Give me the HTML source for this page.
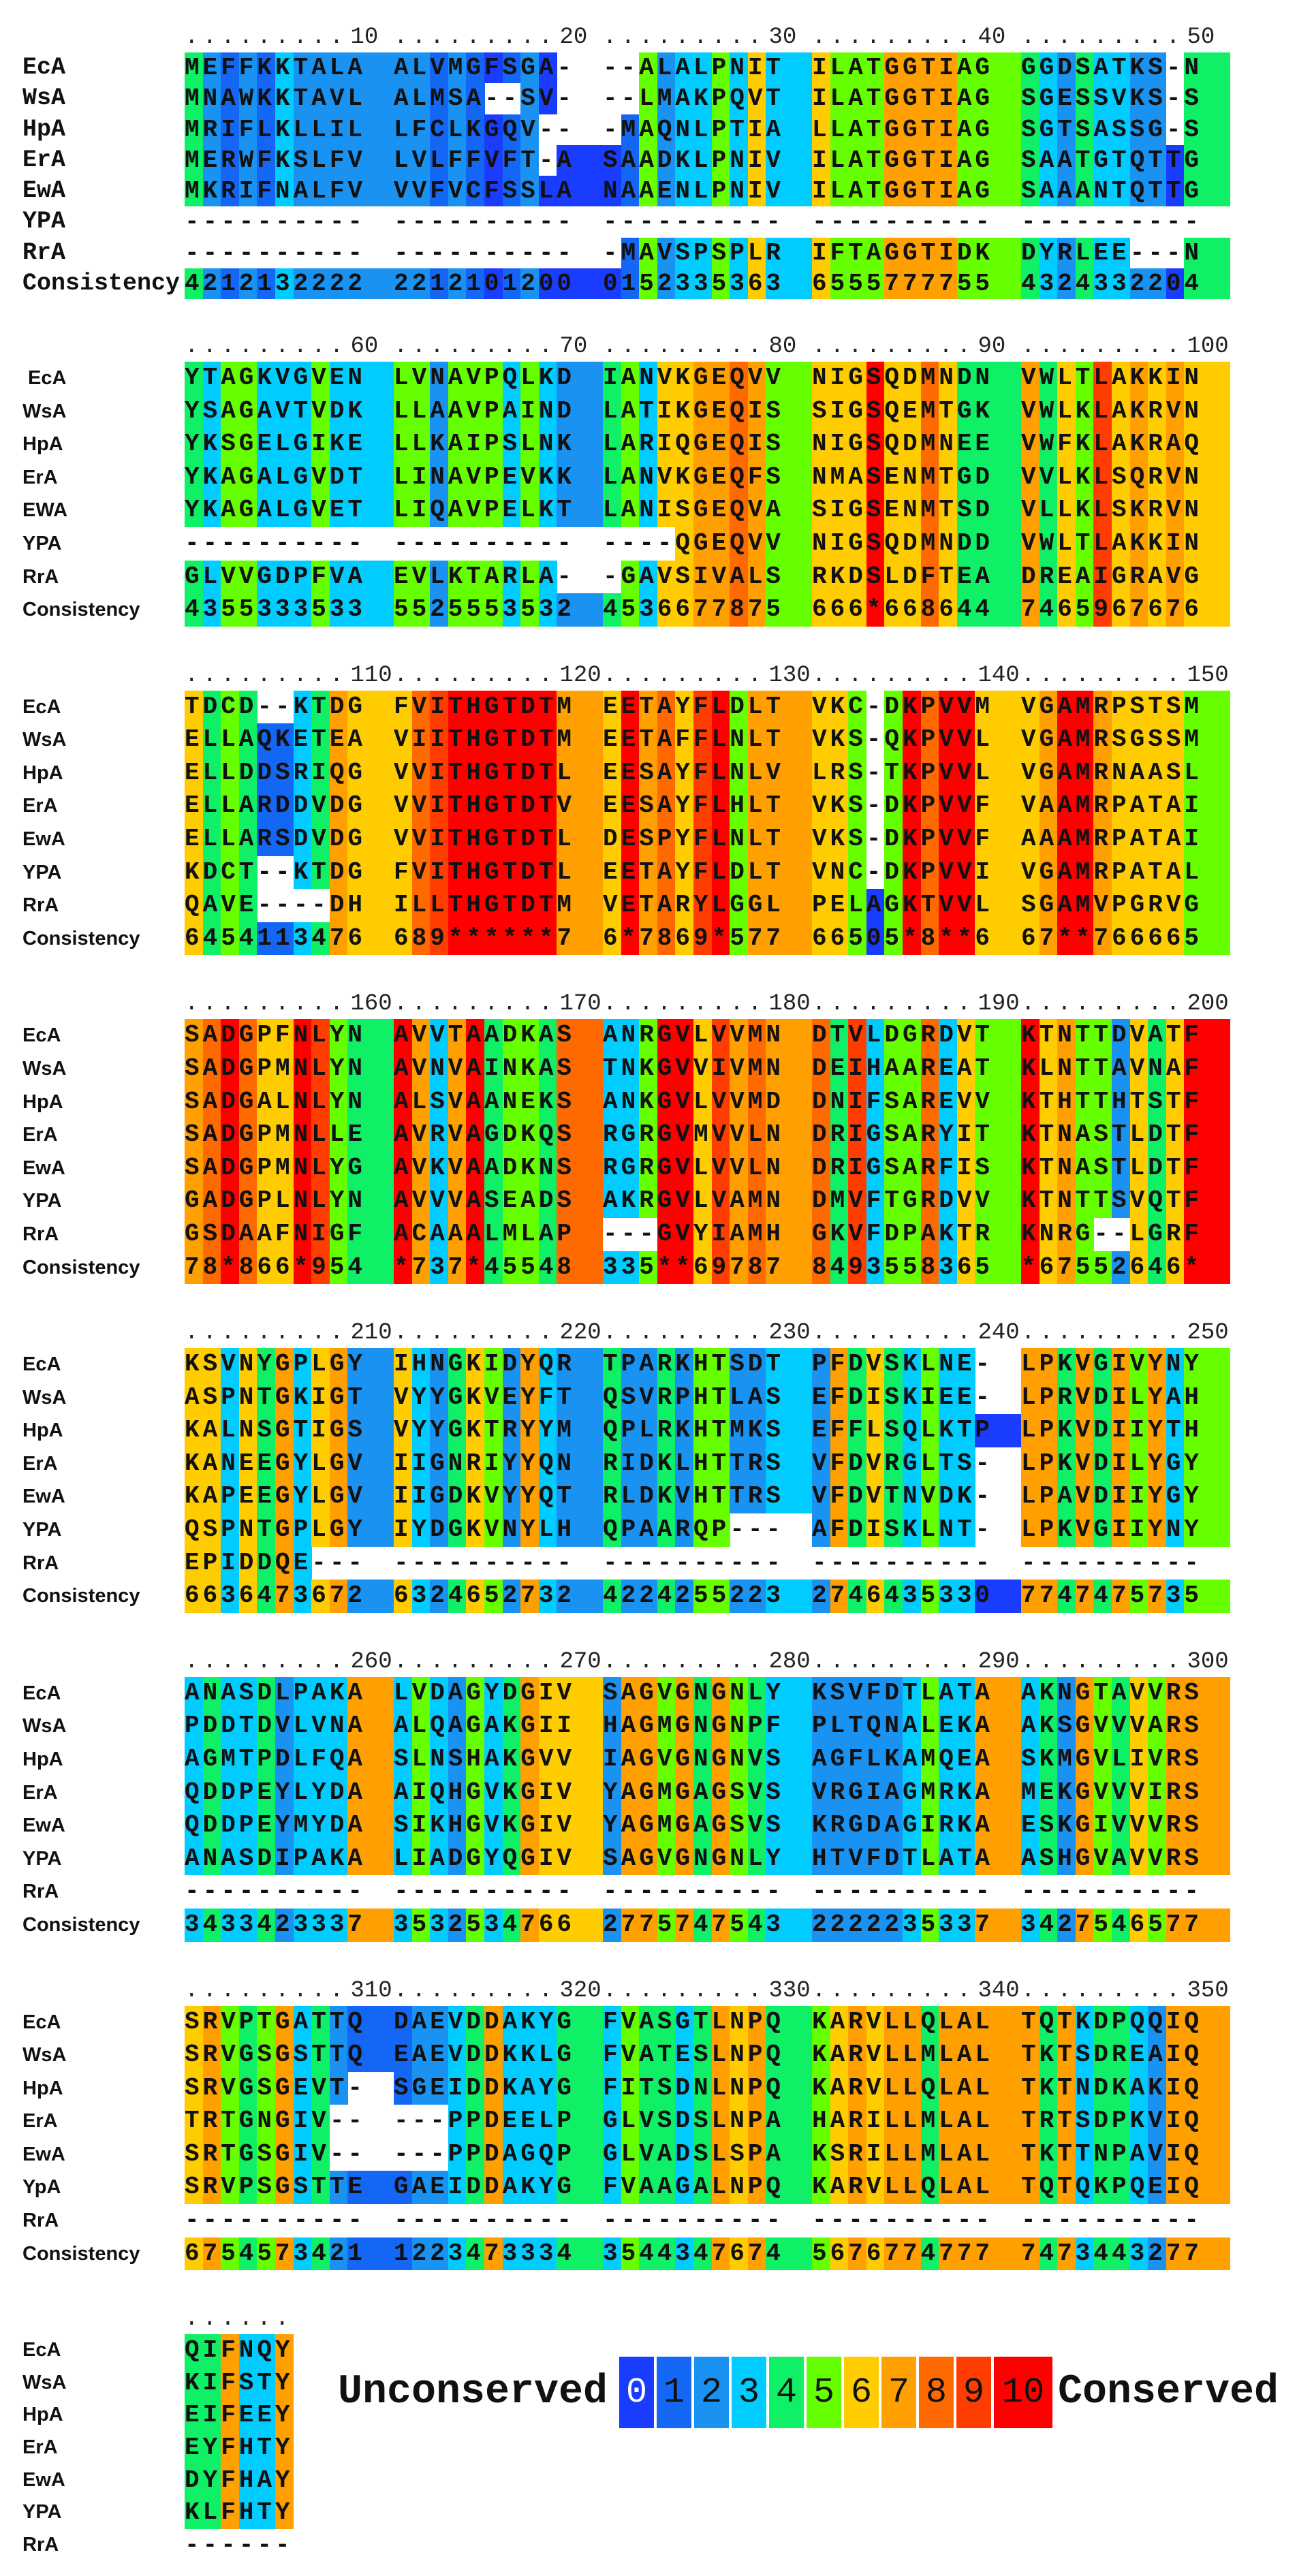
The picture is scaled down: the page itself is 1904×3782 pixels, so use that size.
<!DOCTYPE html>
<html><head><meta charset="utf-8">
<style>
html,body{margin:0;padding:0;background:#fff;}
body{width:1904px;height:3782px;position:relative;overflow:hidden;}
.blk{position:absolute;left:0;width:1904px;}
.row{position:relative;height:48.6px;line-height:48.6px;}
.b1 .row{height:45.3px;line-height:45.3px;}
.b8 .row{height:47.7px;line-height:47.7px;}
.lb{position:absolute;left:33px;top:0;font-family:"Liberation Sans",Arial,sans-serif;font-weight:bold;font-size:29px;color:#111;z-index:2;}
.b1 .lb{font-family:"Liberation Mono","Courier New",monospace;font-size:35px;}
.sq{position:absolute;left:271px;top:0;white-space:nowrap;font-family:"Liberation Mono","Courier New",monospace;font-weight:bold;font-size:36px;color:#111;z-index:2;}
.sq i{font-style:normal;display:inline-block;width:307px;letter-spacing:5px;}
.rl{position:absolute;left:271px;top:-40px;height:36px;line-height:36px;white-space:nowrap;font-family:"Liberation Mono","Courier New",monospace;font-size:34px;color:#222;}
.rl i{font-style:normal;display:inline-block;width:307px;letter-spacing:6.2px;}
.rl u{text-decoration:none;letter-spacing:0;margin-left:4px;}
.bg{position:absolute;top:0;height:100%;z-index:1;}
.leg{position:absolute;font-family:"Liberation Mono","Courier New",monospace;}
</style></head><body>

<div class="blk b1" style="top:77px">
<div class="rl"><i>.........<u>10</u></i><i>.........<u>20</u></i><i>.........<u>30</u></i><i>.........<u>40</u></i><i>.........<u>50</u></i></div>
<div class="row"><b class="lb">EcA</b><span class="sq"><i>MEFFKKTALA</i><i>ALVMGFSGA-</i><i>--ALALPNIT</i><i>ILATGGTIAG</i><i>GGDSATKS-N</i></span></div>
<div class="row"><b class="lb">WsA</b><span class="sq"><i>MNAWKKTAVL</i><i>ALMSA--SV-</i><i>--LMAKPQVT</i><i>ILATGGTIAG</i><i>SGESSVKS-S</i></span></div>
<div class="row"><b class="lb">HpA</b><span class="sq"><i>MRIFLKLLIL</i><i>LFCLKGQV--</i><i>-MAQNLPTIA</i><i>LLATGGTIAG</i><i>SGTSASSG-S</i></span></div>
<div class="row"><b class="lb">ErA</b><span class="sq"><i>MERWFKSLFV</i><i>LVLFFVFT-A</i><i>SAADKLPNIV</i><i>ILATGGTIAG</i><i>SAATGTQTTG</i></span></div>
<div class="row"><b class="lb">EwA</b><span class="sq"><i>MKRIFNALFV</i><i>VVFVCFSSLA</i><i>NAAENLPNIV</i><i>ILATGGTIAG</i><i>SAAANTQTTG</i></span></div>
<div class="row"><b class="lb">YPA</b><span class="sq"><i>----------</i><i>----------</i><i>----------</i><i>----------</i><i>----------</i></span></div>
<div class="row"><b class="lb">RrA</b><span class="sq"><i>----------</i><i>----------</i><i>-MAVSPSPLR</i><i>IFTAGGTIDK</i><i>DYRLEE---N</i></span></div>
<div class="row cons"><b class="lb">Consistency</b><span class="sq"><i>4212132222</i><i>2212101200</i><i>0152335363</i><i>6555777755</i><i>4324332204</i></span></div>
</div>

<div class="blk bn" style="top:531px">
<div class="rl"><i>.........<u>60</u></i><i>.........<u>70</u></i><i>.........<u>80</u></i><i>.........<u>90</u></i><i>.........<u>100</u></i></div>
<div class="row"><b class="lb" style="left:41px">EcA</b><span class="sq"><i>YTAGKVGVEN</i><i>LVNAVPQLKD</i><i>IANVKGEQVV</i><i>NIGSQDMNDN</i><i>VWLTLAKKIN</i></span></div>
<div class="row"><b class="lb">WsA</b><span class="sq"><i>YSAGAVTVDK</i><i>LLAAVPAIND</i><i>LATIKGEQIS</i><i>SIGSQEMTGK</i><i>VWLKLAKRVN</i></span></div>
<div class="row"><b class="lb">HpA</b><span class="sq"><i>YKSGELGIKE</i><i>LLKAIPSLNK</i><i>LARIQGEQIS</i><i>NIGSQDMNEE</i><i>VWFKLAKRAQ</i></span></div>
<div class="row"><b class="lb">ErA</b><span class="sq"><i>YKAGALGVDT</i><i>LINAVPEVKK</i><i>LANVKGEQFS</i><i>NMASENMTGD</i><i>VVLKLSQRVN</i></span></div>
<div class="row"><b class="lb">EWA</b><span class="sq"><i>YKAGALGVET</i><i>LIQAVPELKT</i><i>LANISGEQVA</i><i>SIGSENMTSD</i><i>VLLKLSKRVN</i></span></div>
<div class="row"><b class="lb">YPA</b><span class="sq"><i>----------</i><i>----------</i><i>----QGEQVV</i><i>NIGSQDMNDD</i><i>VWLTLAKKIN</i></span></div>
<div class="row"><b class="lb">RrA</b><span class="sq"><i>GLVVGDPFVA</i><i>EVLKTARLA-</i><i>-GAVSIVALS</i><i>RKDSLDFTEA</i><i>DREAIGRAVG</i></span></div>
<div class="row cons"><b class="lb">Consistency</b><span class="sq"><i>4355333533</i><i>5525553532</i><i>4536677875</i><i>666*668644</i><i>7465967676</i></span></div>
</div>

<div class="blk bn" style="top:1013.7px">
<div class="rl"><i>.........<u>110</u></i><i>.........<u>120</u></i><i>.........<u>130</u></i><i>.........<u>140</u></i><i>.........<u>150</u></i></div>
<div class="row"><b class="lb">EcA</b><span class="sq"><i>TDCD--KTDG</i><i>FVITHGTDTM</i><i>EETAYFLDLT</i><i>VKC-DKPVVM</i><i>VGAMRPSTSM</i></span></div>
<div class="row"><b class="lb">WsA</b><span class="sq"><i>ELLAQKETEA</i><i>VIITHGTDTM</i><i>EETAFFLNLT</i><i>VKS-QKPVVL</i><i>VGAMRSGSSM</i></span></div>
<div class="row"><b class="lb">HpA</b><span class="sq"><i>ELLDDSRIQG</i><i>VVITHGTDTL</i><i>EESAYFLNLV</i><i>LRS-TKPVVL</i><i>VGAMRNAASL</i></span></div>
<div class="row"><b class="lb">ErA</b><span class="sq"><i>ELLARDDVDG</i><i>VVITHGTDTV</i><i>EESAYFLHLT</i><i>VKS-DKPVVF</i><i>VAAMRPATAI</i></span></div>
<div class="row"><b class="lb">EwA</b><span class="sq"><i>ELLARSDVDG</i><i>VVITHGTDTL</i><i>DESPYFLNLT</i><i>VKS-DKPVVF</i><i>AAAMRPATAI</i></span></div>
<div class="row"><b class="lb">YPA</b><span class="sq"><i>KDCT--KTDG</i><i>FVITHGTDTL</i><i>EETAYFLDLT</i><i>VNC-DKPVVI</i><i>VGAMRPATAL</i></span></div>
<div class="row"><b class="lb">RrA</b><span class="sq"><i>QAVE----DH</i><i>ILLTHGTDTM</i><i>VETARYLGGL</i><i>PELAGKTVVL</i><i>SGAMVPGRVG</i></span></div>
<div class="row cons"><b class="lb">Consistency</b><span class="sq"><i>6454113476</i><i>689******7</i><i>6*7869*577</i><i>66505*8**6</i><i>67**766665</i></span></div>
</div>

<div class="blk bn" style="top:1496.4px">
<div class="rl"><i>.........<u>160</u></i><i>.........<u>170</u></i><i>.........<u>180</u></i><i>.........<u>190</u></i><i>.........<u>200</u></i></div>
<div class="row"><b class="lb">EcA</b><span class="sq"><i>SADGPFNLYN</i><i>AVVTAADKAS</i><i>ANRGVLVVMN</i><i>DTVLDGRDVT</i><i>KTNTTDVATF</i></span></div>
<div class="row"><b class="lb">WsA</b><span class="sq"><i>SADGPMNLYN</i><i>AVNVAINKAS</i><i>TNKGVVIVMN</i><i>DEIHAAREAT</i><i>KLNTTAVNAF</i></span></div>
<div class="row"><b class="lb">HpA</b><span class="sq"><i>SADGALNLYN</i><i>ALSVAANEKS</i><i>ANKGVLVVMD</i><i>DNIFSAREVV</i><i>KTHTTHTSTF</i></span></div>
<div class="row"><b class="lb">ErA</b><span class="sq"><i>SADGPMNLLE</i><i>AVRVAGDKQS</i><i>RGRGVMVVLN</i><i>DRIGSARYIT</i><i>KTNASTLDTF</i></span></div>
<div class="row"><b class="lb">EwA</b><span class="sq"><i>SADGPMNLYG</i><i>AVKVAADKNS</i><i>RGRGVLVVLN</i><i>DRIGSARFIS</i><i>KTNASTLDTF</i></span></div>
<div class="row"><b class="lb">YPA</b><span class="sq"><i>GADGPLNLYN</i><i>AVVVASEADS</i><i>AKRGVLVAMN</i><i>DMVFTGRDVV</i><i>KTNTTSVQTF</i></span></div>
<div class="row"><b class="lb">RrA</b><span class="sq"><i>GSDAAFNIGF</i><i>ACAAALMLAP</i><i>---GVYIAMH</i><i>GKVFDPAKTR</i><i>KNRG--LGRF</i></span></div>
<div class="row cons"><b class="lb">Consistency</b><span class="sq"><i>78*866*954</i><i>*737*45548</i><i>335**69787</i><i>8493558365</i><i>*67552646*</i></span></div>
</div>

<div class="blk bn" style="top:1979.1px">
<div class="rl"><i>.........<u>210</u></i><i>.........<u>220</u></i><i>.........<u>230</u></i><i>.........<u>240</u></i><i>.........<u>250</u></i></div>
<div class="row"><b class="lb">EcA</b><span class="sq"><i>KSVNYGPLGY</i><i>IHNGKIDYQR</i><i>TPARKHTSDT</i><i>PFDVSKLNE-</i><i>LPKVGIVYNY</i></span></div>
<div class="row"><b class="lb">WsA</b><span class="sq"><i>ASPNTGKIGT</i><i>VYYGKVEYFT</i><i>QSVRPHTLAS</i><i>EFDISKIEE-</i><i>LPRVDILYAH</i></span></div>
<div class="row"><b class="lb">HpA</b><span class="sq"><i>KALNSGTIGS</i><i>VYYGKTRYYM</i><i>QPLRKHTMKS</i><i>EFFLSQLKTP</i><i>LPKVDIIYTH</i></span></div>
<div class="row"><b class="lb">ErA</b><span class="sq"><i>KANEEGYLGV</i><i>IIGNRIYYQN</i><i>RIDKLHTTRS</i><i>VFDVRGLTS-</i><i>LPKVDILYGY</i></span></div>
<div class="row"><b class="lb">EwA</b><span class="sq"><i>KAPEEGYLGV</i><i>IIGDKVYYQT</i><i>RLDKVHTTRS</i><i>VFDVTNVDK-</i><i>LPAVDIIYGY</i></span></div>
<div class="row"><b class="lb">YPA</b><span class="sq"><i>QSPNTGPLGY</i><i>IYDGKVNYLH</i><i>QPAARQP---</i><i>AFDISKLNT-</i><i>LPKVGIIYNY</i></span></div>
<div class="row"><b class="lb">RrA</b><span class="sq"><i>EPIDDQE---</i><i>----------</i><i>----------</i><i>----------</i><i>----------</i></span></div>
<div class="row cons"><b class="lb">Consistency</b><span class="sq"><i>6636473672</i><i>6324652732</i><i>4224255223</i><i>2746435330</i><i>7747475735</i></span></div>
</div>

<div class="blk bn" style="top:2461.8px">
<div class="rl"><i>.........<u>260</u></i><i>.........<u>270</u></i><i>.........<u>280</u></i><i>.........<u>290</u></i><i>.........<u>300</u></i></div>
<div class="row"><b class="lb">EcA</b><span class="sq"><i>ANASDLPAKA</i><i>LVDAGYDGIV</i><i>SAGVGNGNLY</i><i>KSVFDTLATA</i><i>AKNGTAVVRS</i></span></div>
<div class="row"><b class="lb">WsA</b><span class="sq"><i>PDDTDVLVNA</i><i>ALQAGAKGII</i><i>HAGMGNGNPF</i><i>PLTQNALEKA</i><i>AKSGVVVARS</i></span></div>
<div class="row"><b class="lb">HpA</b><span class="sq"><i>AGMTPDLFQA</i><i>SLNSHAKGVV</i><i>IAGVGNGNVS</i><i>AGFLKAMQEA</i><i>SKMGVLIVRS</i></span></div>
<div class="row"><b class="lb">ErA</b><span class="sq"><i>QDDPEYLYDA</i><i>AIQHGVKGIV</i><i>YAGMGAGSVS</i><i>VRGIAGMRKA</i><i>MEKGVVVIRS</i></span></div>
<div class="row"><b class="lb">EwA</b><span class="sq"><i>QDDPEYMYDA</i><i>SIKHGVKGIV</i><i>YAGMGAGSVS</i><i>KRGDAGIRKA</i><i>ESKGIVVVRS</i></span></div>
<div class="row"><b class="lb">YPA</b><span class="sq"><i>ANASDIPAKA</i><i>LIADGYQGIV</i><i>SAGVGNGNLY</i><i>HTVFDTLATA</i><i>ASHGVAVVRS</i></span></div>
<div class="row"><b class="lb">RrA</b><span class="sq"><i>----------</i><i>----------</i><i>----------</i><i>----------</i><i>----------</i></span></div>
<div class="row cons"><b class="lb">Consistency</b><span class="sq"><i>3433423337</i><i>3532534766</i><i>2775747543</i><i>2222235337</i><i>3427546577</i></span></div>
</div>

<div class="blk bn" style="top:2944.5px">
<div class="rl"><i>.........<u>310</u></i><i>.........<u>320</u></i><i>.........<u>330</u></i><i>.........<u>340</u></i><i>.........<u>350</u></i></div>
<div class="row"><b class="lb">EcA</b><span class="sq"><i>SRVPTGATTQ</i><i>DAEVDDAKYG</i><i>FVASGTLNPQ</i><i>KARVLLQLAL</i><i>TQTKDPQQIQ</i></span></div>
<div class="row"><b class="lb">WsA</b><span class="sq"><i>SRVGSGSTTQ</i><i>EAEVDDKKLG</i><i>FVATESLNPQ</i><i>KARVLLMLAL</i><i>TKTSDREAIQ</i></span></div>
<div class="row"><b class="lb">HpA</b><span class="sq"><i>SRVGSGEVT-</i><i>SGEIDDKAYG</i><i>FITSDNLNPQ</i><i>KARVLLQLAL</i><i>TKTNDKAKIQ</i></span></div>
<div class="row"><b class="lb">ErA</b><span class="sq"><i>TRTGNGIV--</i><i>---PPDEELP</i><i>GLVSDSLNPA</i><i>HARILLMLAL</i><i>TRTSDPKVIQ</i></span></div>
<div class="row"><b class="lb">EwA</b><span class="sq"><i>SRTGSGIV--</i><i>---PPDAGQP</i><i>GLVADSLSPA</i><i>KSRILLMLAL</i><i>TKTTNPAVIQ</i></span></div>
<div class="row"><b class="lb">YpA</b><span class="sq"><i>SRVPSGSTTE</i><i>GAEIDDAKYG</i><i>FVAAGALNPQ</i><i>KARVLLQLAL</i><i>TQTQKPQEIQ</i></span></div>
<div class="row"><b class="lb">RrA</b><span class="sq"><i>----------</i><i>----------</i><i>----------</i><i>----------</i><i>----------</i></span></div>
<div class="row cons"><b class="lb">Consistency</b><span class="sq"><i>6754573421</i><i>1223473334</i><i>3544347674</i><i>5676774777</i><i>7473443277</i></span></div>
</div>

<div class="blk b8" style="top:3427px">
<div class="rl"><i>......</i></div>
<div class="row"><b class="lb">EcA</b><span class="sq"><i>QIFNQY</i></span></div>
<div class="row"><b class="lb">WsA</b><span class="sq"><i>KIFSTY</i></span></div>
<div class="row"><b class="lb">HpA</b><span class="sq"><i>EIFEEY</i></span></div>
<div class="row"><b class="lb">ErA</b><span class="sq"><i>EYFHTY</i></span></div>
<div class="row"><b class="lb">EwA</b><span class="sq"><i>DYFHAY</i></span></div>
<div class="row"><b class="lb">YPA</b><span class="sq"><i>KLFHTY</i></span></div>
<div class="row"><b class="lb">RrA</b><span class="sq"><i>------</i></span></div>
</div>

<div class="leg" style="left:496px;top:3476px;font-size:60px;font-weight:bold;line-height:72px;color:#111;">Unconserved</div>
<div class="leg" style="left:1553px;top:3476px;font-size:60px;font-weight:bold;line-height:72px;color:#111;">Conserved</div>
<div id="legbox" style="position:absolute;left:909px;top:3460px;height:105px;width:640px;"></div>

<script>
var COL={'0':'#1a3cff','1':'#1466f5','2':'#1a92f2','3':'#00ccff','4':'#10f066','5':'#66ff00','6':'#ffcc00','7':'#ff9f00','8':'#ff6a00','9':'#ff3d00','*':'#ff0000','10':'#ff0000'};
var CW=26.6, GW=307, SP=40.4;
var blks=document.querySelectorAll('.blk');
for(var b=0;b<blks.length;b++){
  var blk=blks[b];
  var rows=blk.querySelectorAll('.row');
  var consRow=blk.querySelector('.row.cons');
  var cons;
  if(consRow){cons=consRow.querySelector('.sq').textContent;}
  else{cons='447337';}
  var n=cons.length;
  for(var r=0;r<rows.length;r++){
    var s=rows[r].querySelector('.sq').textContent;
    for(var k=0;k<s.length;k++){
      var ch=s.charAt(k);
      if(ch==='-') continue;
      var d=document.createElement('div');
      d.className='bg';
      var x=271+Math.floor(k/10)*GW+(k%10)*CW;
      var w=CW+0.6;
      if(k%10===9) w=CW+SP+0.6;
      d.style.left=x+'px';
      d.style.width=w+'px';
      d.style.background=COL[cons.charAt(k)]||'#fff';
      rows[r].appendChild(d);
    }
  }
}
var lb=document.getElementById('legbox');
var x=0;
for(var i=0;i<=10;i++){
  var w=(i===10)?86:51;
  var d=document.createElement('div');
  d.style.cssText='position:absolute;top:0;height:105px;left:'+x+'px;width:'+w+'px;background:'+COL[String(i)]+';font-family:"Liberation Mono","Courier New",monospace;font-size:52px;line-height:105px;text-align:center;color:'+(i===0?'#fff':'#111')+';';
  d.textContent=String(i);
  lb.appendChild(d);
  x+=w+4;
}
</script>
</body></html>
